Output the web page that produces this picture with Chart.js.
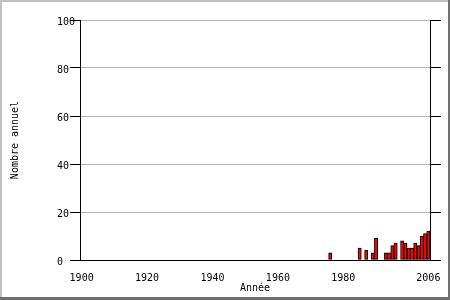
<!DOCTYPE html>
<html>
<head>
<meta charset="utf-8">
<script src="https://cdn.jsdelivr.net/npm/chart.js@4.4.1/dist/chart.umd.min.js"></script>
<style>
  html, body { margin: 0; padding: 0; background: #ffffff; }
  #c { display: block; }
</style>
</head>
<body>
<canvas id="c" width="450" height="300"></canvas>
<script>
// Data
const years  = [1976, 1985, 1987, 1989, 1990, 1993, 1994, 1995, 1996, 1998, 1999, 2000, 2001, 2002, 2003, 2004, 2005, 2006];
const counts = [3,    5,    4,    3,    9,    3,    3,    6,    7,    8,    7,    5,    5,    7,    6,    10,   11,   12];
const xTickYears = [1900, 1920, 1940, 1960, 1980, 2006];
const yTickValues = [0, 20, 40, 60, 80, 100];
const xTitle = 'Année';
const yTitle = 'Nombre annuel';

const FONT = { family: 'DejaVu Sans Mono', size: 10 };
const YFONT = { family: 'DejaVu Sans Mono', size: 10, lineHeight: '4px' };

const framePlugin = {
  id: 'frame',
  afterDraw(chart) {
    const ctx = chart.ctx;
    const w = chart.width, h = chart.height;
    ctx.save();
    ctx.fillStyle = '#c0c0c0';
    ctx.fillRect(0, 0, w, 2);
    ctx.fillRect(0, 0, 2, h);
    ctx.fillStyle = '#707070';
    ctx.fillRect(w - 2, 0, 2, h);
    ctx.fillRect(0, h - 3, w, 3);
    ctx.restore();
  }
};

new Chart(document.getElementById('c'), {
  type: 'bar',
  data: {
    datasets: [{
      data: years.map((y, i) => ({ x: y, y: counts[i] })),
      backgroundColor: '#ff0000',
      borderColor: '#000000',
      borderWidth: 1,
      borderSkipped: false,
      barPercentage: 1.0,
      categoryPercentage: 1.0
    }]
  },
  plugins: [framePlugin],
  options: {
    responsive: false,
    animation: false,
    devicePixelRatio: 1,
    layout: { padding: { left: 0, top: 20, right: 0, bottom: 0 } },
    plugins: { legend: { display: false }, tooltip: { enabled: false } },
    scales: {
      x: {
        type: 'linear',
        min: 1899.5,
        max: 2006.5,
        offset: false,
        grid: { display: false, drawTicks: true, tickLength: 12 },
        border: { display: true, color: '#000000', width: 1 },
        afterBuildTicks(scale) { scale.ticks = xTickYears.map(v => ({ value: v })); },
        afterFit(scale) { scale.height = 40; },
        ticks: {
          font: FONT, color: '#000000', padding: 0, maxRotation: 0, autoSkip: false,
          callback: (v) => String(v)
        },
        title: { display: true, text: xTitle, font: FONT, color: '#000000', padding: { top: 0, bottom: 6 } }
      },
      y: {
        position: 'left',
        min: 0, max: 100,
        afterBuildTicks(scale) { scale.ticks = yTickValues.map(v => ({ value: v })); },
        afterFit(scale) { scale.width = 80; },
        grid: { color: '#b4b4b4', tickColor: '#000000', tickLength: 10, lineWidth: 1 },
        border: { display: true, color: '#000000', width: 1 },
        ticks: {
          font: YFONT, color: '#000000', padding: -5,
          callback: (v) => { const s = String(v); return ['', s + ' '.repeat(3 - s.length)]; }
        },
        title: { display: true, text: yTitle, font: FONT, color: '#000000', padding: { top: 9, bottom: 0 } }
      },
      y2: {
        position: 'right',
        min: 0, max: 100,
        afterBuildTicks(scale) { scale.ticks = yTickValues.map(v => ({ value: v })); },
        afterFit(scale) { scale.width = 20; },
        grid: { drawOnChartArea: false, tickColor: '#000000', tickLength: 11 },
        border: { display: true, color: '#000000', width: 1 },
        ticks: { display: false }
      }
    }
  }
});
</script>
</body>
</html>
